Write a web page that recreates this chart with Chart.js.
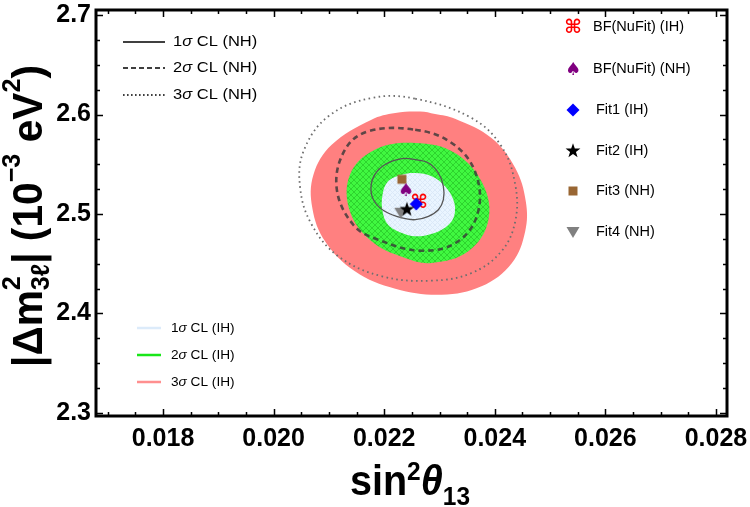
<!DOCTYPE html>
<html>
<head>
<meta charset="utf-8">
<script src="https://cdn.jsdelivr.net/npm/chart.js@4.4.1/dist/chart.umd.min.js"></script>
<style>
  html, body { margin: 0; padding: 0; background: #fff; }
  #chart { display: block; }
</style>
</head>
<body>
<canvas id="chart" width="750" height="507"></canvas>
<script>
const xTicks = [0.018, 0.020, 0.022, 0.024, 0.026, 0.028];
const yTicks = [2.3, 2.4, 2.5, 2.6, 2.7];

// IH allowed regions: [sin^2 theta13, |dm31^2|] (closed loops)
const ih3Sigma = [[0.02220,2.6015],[0.02265,2.6030],[0.02292,2.6005],[0.02328,2.5958],[0.02394,2.5764],[0.02437,2.5462],[0.02456,2.5128],[0.02455,2.4826],[0.02431,2.4508],[0.02376,2.4273],[0.02304,2.4189],[0.02220,2.4249],[0.02147,2.4424],[0.02093,2.4726],[0.02070,2.5060],[0.02072,2.5395],[0.02105,2.5696],[0.02177,2.5948]];
const ih2Sigma = [[0.02256,2.5714],[0.02328,2.5613],[0.02379,2.5294],[0.02388,2.4927],[0.02352,2.4625],[0.02286,2.4508],[0.02238,2.4558],[0.02177,2.4726],[0.02138,2.5027],[0.02138,2.5395],[0.02183,2.5646]];
const ih1Sigma = [[0.02256,2.5412],[0.02286,2.5379],[0.02310,2.5278],[0.02325,2.5144],[0.02328,2.5027],[0.02322,2.4927],[0.02304,2.4842],[0.02280,2.4792],[0.02256,2.4776],[0.02232,2.4809],[0.02207,2.4892],[0.02197,2.5027],[0.02197,2.5194],[0.02207,2.5329],[0.02232,2.5395]];

// NH contours
const nh1Sigma = [[0.02256,2.5546],[0.02280,2.5513],[0.02298,2.5412],[0.02307,2.5278],[0.02307,2.5144],[0.02298,2.5043],[0.02280,2.4977],[0.02256,2.4943],[0.02232,2.4960],[0.02201,2.5027],[0.02182,2.5128],[0.02176,2.5261],[0.02183,2.5395],[0.02201,2.5495],[0.02232,2.5556]];
const nh2Sigma = [[0.02256,2.5847],[0.02322,2.5714],[0.02364,2.5429],[0.02370,2.5027],[0.02334,2.4726],[0.02268,2.4631],[0.02189,2.4742],[0.02144,2.4892],[0.02114,2.5261],[0.02129,2.5646],[0.02171,2.5831]];
const nh3Sigma = [[0.02256,2.6159],[0.02358,2.5965],[0.02412,2.5680],[0.02437,2.5294],[0.02437,2.4927],[0.02412,2.4625],[0.02358,2.4407],[0.02286,2.4330],[0.02196,2.4374],[0.02117,2.4575],[0.02069,2.4892],[0.02048,2.5261],[0.02054,2.5630],[0.02099,2.5982],[0.02177,2.6166]];

// best fit points
const pointLabels = ['BF(NuFit) (IH)', 'BF(NuFit) (NH)', 'Fit1 (IH)', 'Fit2 (IH)', 'Fit3 (NH)', 'Fit4 (NH)'];
const pointX = [0.02263, 0.02239, 0.02258, 0.02241, 0.02232, 0.02230];
const pointY = [2.5121, 2.5241, 2.5101, 2.5045, 2.5349, 2.5013];

const ctx = document.getElementById('chart').getContext('2d');
const tickFont = { family: '"Liberation Sans", Arial, sans-serif', size: 25, weight: 'bold', lineHeight: 1 };

function hatch(base, line, step) {
    const c = document.createElement('canvas');
    c.width = c.height = step;
    const g = c.getContext('2d');
    g.fillStyle = base;
    g.fillRect(0, 0, step, step);
    g.strokeStyle = line;
    g.lineWidth = 1;
    g.beginPath();
    g.moveTo(0, step); g.lineTo(step, 0);
    g.moveTo(0, 0); g.lineTo(step, step);
    g.stroke();
    return ctx.createPattern(c, 'repeat');
}

function makeMarker(kind, color) {
    const c = document.createElement('canvas');
    c.width = 24; c.height = 24;
    const g = c.getContext('2d');
    g.fillStyle = color;
    g.translate(12, 12);
    g.beginPath();
    if (kind === 'cmd' || kind === 'spade') {
        g.font = kind === 'cmd' ? 'bold 19px "DejaVu Sans"' : '18px "DejaVu Sans"';
        g.textAlign = 'center';
        g.textBaseline = 'middle';
        g.fillText(kind === 'cmd' ? '\u2318' : '\u2660', 0, 1);
        return c;
    }
    if (kind === 'diamond') {
        g.moveTo(0, -6.5); g.lineTo(6.5, 0); g.lineTo(0, 6.5); g.lineTo(-6.5, 0);
    } else if (kind === 'star') {
        for (let i = 0; i < 10; i++) {
            const r = i % 2 ? 3.1 : 7.8;
            const t = -Math.PI / 2 + i * Math.PI / 5;
            g.lineTo(r * Math.cos(t), r * Math.sin(t));
        }
    } else if (kind === 'square') {
        g.rect(-4.5, -4.5, 9, 9);
    } else if (kind === 'tri') {
        g.moveTo(-6.5, -5); g.lineTo(6.5, -5); g.lineTo(0, 6);
    }
    g.closePath();
    g.fill();
    return c;
}

const markers = [
    makeMarker('cmd', '#ff0000'),
    makeMarker('spade', '#800080'),
    makeMarker('diamond', '#0000ff'),
    makeMarker('star', '#000000'),
    makeMarker('square', '#996633'),
    makeMarker('tri', '#808080')
];
const markerOrder = [4, 3, 1, 0, 3, 2];

const toXY = pts => pts.map(([x, y]) => ({ x, y }));

function region(label, pts, fillStyle, order) {
    return {
        label, data: toXY(pts), showLine: true, fill: 'shape', closed: true,
        backgroundColor: fillStyle, borderColor: 'rgba(0,0,0,0)', borderWidth: 0,
        pointRadius: 0, tension: 0.38, order
    };
}

function contour(label, pts, color, width, dash, order) {
    return {
        label, data: toXY(pts), showLine: true, fill: false, closed: true,
        borderColor: color, borderWidth: width, borderDash: dash,
        pointRadius: 0, tension: 0.38, order
    };
}

// make contour lines smooth closed loops (same flags the radar chart uses)
const closeLoops = {
    id: 'closeLoops',
    afterDatasetUpdate(chart, args) {
        const ds = chart.data.datasets[args.index];
        const line = args.meta.dataset;
        if (ds.closed && line) {
            line._loop = true;
            line._fullLoop = true;
        }
    }
};

// text with sub/superscripts; stack:true starts at the previous part's x
function layoutRich(g, parts, family) {
    let cx = 0, last = null;
    const items = parts.map(p => {
        g.font = `${p.style || ''} ${p.size}px ${family}`;
        const w = g.measureText(p.t).width;
        const start = p.stack && last ? last.start : cx;
        cx = Math.max(cx, start + w);
        last = { p, start, font: g.font };
        return last;
    });
    return { items, width: cx };
}

function drawRich(g, parts, family, x, y, k) {
    const lay = layoutRich(g, parts, family);
    g.save();
    g.translate(x, y);
    g.scale(k, 1);
    for (const it of lay.items) {
        g.font = it.font;
        g.fillText(it.p.t, it.start, it.p.dy || 0);
    }
    g.restore();
    return lay.width;
}

const nhLegend = [
    { text: '1', dash: [] },
    { text: '2', dash: [5, 3] },
    { text: '3', dash: [1.6, 2.4] }
];
const ihLegend = [
    { text: '1', color: '#dcebfa' },
    { text: '2', color: '#19e619' },
    { text: '3', color: '#ff8f8f' }
];

const overlay = {
    id: 'overlay',
    afterDraw(chart) {
        const g = chart.ctx;
        const a = chart.chartArea;
        const sx = chart.scales.x, sy = chart.scales.y;
        g.save();

        // inward ticks on all four sides
        g.strokeStyle = '#000';
        g.lineWidth = 1.5;
        g.beginPath();
        for (let k = 34; k <= 56; k++) {
            const px = Math.round(sx.getPixelForValue(k * 0.0005)) + 0.5;
            const len = k % 4 === 0 ? 7 : 4;
            g.moveTo(px, a.bottom); g.lineTo(px, a.bottom - len);
            g.moveTo(px, a.top); g.lineTo(px, a.top + len);
        }
        for (let k = 92; k <= 108; k++) {
            const py = Math.round(sy.getPixelForValue(k * 0.025)) + 0.5;
            const len = k % 4 === 0 ? 7 : 4;
            g.moveTo(a.left, py); g.lineTo(a.left + len, py);
            g.moveTo(a.right, py); g.lineTo(a.right - len, py);
        }
        g.stroke();

        g.lineWidth = 3;
        g.strokeRect(a.left, a.top, a.right - a.left, a.bottom - a.top);

        // NH line legend (top left)
        g.fillStyle = '#000';
        g.textBaseline = 'middle';
        const fam = '"Liberation Sans", Arial, sans-serif';
        [42, 68, 95].forEach((yy, i) => {
            g.setLineDash(nhLegend[i].dash);
            g.lineWidth = 1.6;
            g.beginPath();
            g.moveTo(123, yy); g.lineTo(165, yy);
            g.stroke();
            drawRich(g, [
                { t: nhLegend[i].text, size: 15 },
                { t: '\u03c3', size: 15, style: 'italic' },
                { t: ' CL (NH)', size: 15 }
            ], fam, 173, yy, 1.1);
        });

        // IH region legend (bottom left)
        [328, 355, 382].forEach((yy, i) => {
            g.setLineDash([]);
            g.strokeStyle = ihLegend[i].color;
            g.lineWidth = 2.5;
            g.beginPath();
            g.moveTo(137, yy); g.lineTo(161, yy);
            g.stroke();
            drawRich(g, [
                { t: ihLegend[i].text, size: 13 },
                { t: '\u03c3', size: 13, style: 'italic' },
                { t: ' CL (IH)', size: 13 }
            ], fam, 171, yy, 1.05);
        });

        // point legend (top right)
        [27, 69, 110, 151, 191, 232].forEach((yy, i) => {
            const m = markers[i];
            g.drawImage(m, 573 - m.width / 2, yy - m.height / 2);
            g.font = `14.5px ${fam}`;
            g.fillStyle = '#000';
            g.fillText(pointLabels[i], i < 2 ? 593 : 596, yy);
        });

        // axis titles
        g.textBaseline = 'alphabetic';
        const xParts = [
            { t: 'sin', size: 42, style: 'bold' },
            { t: '2', size: 26, style: 'bold', dy: -15 },
            { t: '\u03b8', size: 42, style: 'bold italic' },
            { t: '13', size: 26, style: 'bold', dy: 10 }
        ];
        const xw = layoutRich(g, xParts, fam).width;
        drawRich(g, xParts, fam, 350, 495, 120 / xw);

        const yParts = [
            { t: '|\u0394m', size: 42, style: 'bold' },
            { t: '3\u2113', size: 26, style: 'bold', dy: 7 },
            { t: '2', size: 26, style: 'bold', dy: -22, stack: true },
            { t: '| (10', size: 42, style: 'bold' },
            { t: '\u22123', size: 26, style: 'bold', dy: -22 },
            { t: ' eV', size: 42, style: 'bold' },
            { t: '2', size: 26, style: 'bold', dy: -22 },
            { t: ')', size: 42, style: 'bold' }
        ];
        const yw = layoutRich(g, yParts, fam).width;
        g.translate(42, 216);
        g.rotate(-Math.PI / 2);
        drawRich(g, yParts, fam, -151, 0, 302 / yw);

        g.restore();
    }
};

Chart.defaults.color = '#000';

new Chart(ctx, {
    type: 'scatter',
    data: {
        datasets: [
            ...pointLabels.map((label, i) => ({
                label,
                data: [{ x: pointX[i], y: pointY[i] }],
                pointStyle: markers[i],
                pointRadius: 6,
                showLine: false,
                order: markerOrder[i]
            })),
            contour('1\u03c3 CL (NH)', nh1Sigma, '#555555', 1.3, [], 5),
            contour('2\u03c3 CL (NH)', nh2Sigma, 'rgba(55,55,55,0.8)', 2.6, [5.5, 4], 6),
            contour('3\u03c3 CL (NH)', nh3Sigma, '#6e6e6e', 1.8, [1.6, 3.4], 7),
            region('1\u03c3 CL (IH)', ih1Sigma, hatch('#eaf5ff', '#dbe9f8', 5), 8),
            region('2\u03c3 CL (IH)', ih2Sigma, hatch('#40f840', '#2ed42e', 6), 9),
            region('3\u03c3 CL (IH)', ih3Sigma, '#ff8080', 10)
        ]
    },
    options: {
        responsive: false,
        animation: false,
        layout: { padding: { top: 10, right: 23, left: 0, bottom: 0 } },
        plugins: { legend: { display: false }, tooltip: { enabled: false } },
        scales: {
            x: {
                type: 'linear',
                min: 0.016788,
                max: 0.028199,
                grid: { display: false, drawTicks: false },
                border: { display: false },
                afterBuildTicks: s => { s.ticks = xTicks.map(value => ({ value })); },
                afterFit: s => { s.height = 91; s.paddingLeft = 0; s.paddingRight = 0; },
                ticks: {
                    font: tickFont, color: '#000', padding: 11,
                    maxRotation: 0, autoSkip: false,
                    callback: v => v.toFixed(3)
                }
            },
            y: {
                type: 'linear',
                min: 2.29698,
                max: 2.70503,
                grid: { display: false, drawTicks: false },
                border: { display: false },
                afterBuildTicks: s => { s.ticks = yTicks.map(value => ({ value })); },
                afterFit: s => { s.width = 96; s.paddingTop = 0; s.paddingBottom = 0; },
                ticks: {
                    font: tickFont, color: '#000', padding: 5,
                    autoSkip: false,
                    callback: v => v.toFixed(1)
                }
            }
        }
    },
    plugins: [closeLoops, overlay]
});
</script>
</body>
</html>
